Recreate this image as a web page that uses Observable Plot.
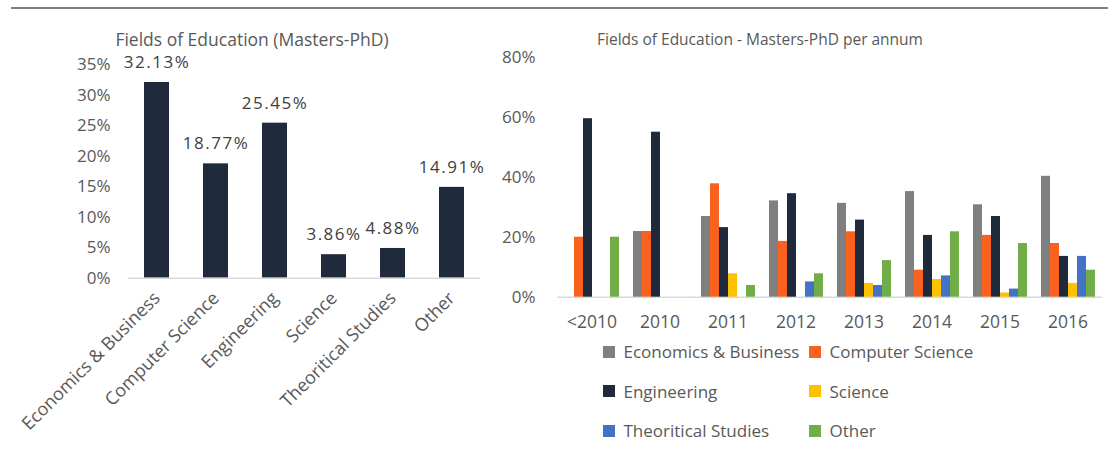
<!DOCTYPE html>
<html>
<head>
<meta charset="utf-8">
<script src="https://cdn.jsdelivr.net/npm/d3@7"></script>
<script src="https://cdn.jsdelivr.net/npm/@observablehq/plot@0.6"></script>
<style>
  body { margin: 0; background: #fff; }
  #wrap { position: relative; width: 1108px; height: 463px; overflow: hidden; font-family: "Open Sans", sans-serif; background: #fff; }
  #topline { position: absolute; left: 11px; top: 7px; width: 1097px; height: 2px; background: #7f7f7f; }
  #left { position: absolute; left: 0; top: 0; }
  #right { position: absolute; left: 500px; top: 0; }
  .ttl { position: absolute; color: #595959; line-height: 22px; white-space: nowrap; transform: translateX(-50%); }
  #legend { position: absolute; left: 603px; top: 332px; width: 430px; }
  #legend .lg-swatch { width: 206px; margin-right: 0; height: 39.5px; }
  #left g[aria-label="text"] text { letter-spacing: 1.5px; }
  #left g[aria-label="x-axis tick label"] text { font-size: 18px; }
  #right g[aria-label="fx-axis tick label"] text { font-size: 17.5px; }
</style>
</head>
<body>
<div id="wrap">
  <div id="topline"></div>
  <div id="left"></div>
  <div id="right"></div>
  <div class="ttl" id="t1" style="left:252px; top:28px; font-size:17.5px;">Fields of Education (Masters-PhD)</div>
  <div class="ttl" id="t2" style="left:760px; top:28px; font-size:15.5px;">Fields of Education - Masters-PhD per annum</div>
  <div id="legend"></div>
</div>
<script>
// ---- Data ----
const categories = ["Economics & Business", "Computer Science", "Engineering", "Science", "Theoritical Studies", "Other"];
const totals = [32.13, 18.77, 25.45, 3.86, 4.88, 14.91];
const leftTicks = [0, 5, 10, 15, 20, 25, 30, 35];

const years = ["<2010", "2010", "2011", "2012", "2013", "2014", "2015", "2016"];
const econ  = [null, 21.9, 26.9, 32.1, 31.3, 35.2, 30.8, 40.3];
const cs    = [20.0, 21.9, 37.8, 18.6, 21.8, 9.0, 20.6, 17.9];
const eng   = [59.5, 55.0, 23.2, 34.5, 25.7, 20.6, 26.9, 13.6];
const sci   = [null, null, 7.8, null, 4.6, 5.9, 1.4, 4.6];
const theo  = [null, null, null, 5.1, 3.9, 7.1, 2.7, 13.6];
const other = [20.0, null, 3.9, 7.8, 12.2, 21.8, 17.9, 9.0];
const rightTicks = [0, 20, 40, 60, 80];
const colors = ["#7f7f7f", "#fa611e", "#1f2a3c", "#ffc000", "#4472c4", "#70ad47"];

// ---- Tables ----
const leftTable = categories.map((c, i) => ({category: c, share: totals[i]}));
const seriesValues = [econ, cs, eng, sci, theo, other];
const rightTable = [];
years.forEach((y, yi) => {
  categories.forEach((c, ci) => {
    const v = seriesValues[ci][yi];
    if (v != null) rightTable.push({year: y, series: c, value: v});
  });
});

const baseStyle = {fontFamily: "Open Sans", fontSize: "17px", color: "#595959", background: "transparent", overflow: "visible"};

const left = Plot.plot({
  width: 520,
  height: 463,
  marginLeft: 128,
  marginRight: 40,
  marginTop: 64.5,
  marginBottom: 185.3,
  style: baseStyle,
  x: {domain: categories, paddingInner: 0.576, paddingOuter: 0.271, tickRotate: -45, tickSize: 0, tickPadding: 17, label: null},
  y: {domain: [0, 35], ticks: leftTicks, tickFormat: d => d + "%", tickSize: 0, tickPadding: 18, label: null},
  marks: [
    Plot.barY(leftTable, {x: "category", y: "share", fill: "#1f2a3c"}),
    Plot.ruleY([0], {stroke: "#d9d9d9", strokeWidth: 1.5}),
    Plot.text(leftTable, {x: "category", y: "share", text: d => d.share.toFixed(2) + "%", dy: -20, fill: "#404040", fontSize: 17})
  ]
});
document.getElementById("left").appendChild(left);

const right = Plot.plot({
  width: 608,
  height: 463,
  marginLeft: 58,
  marginRight: 6,
  marginTop: 56.7,
  marginBottom: 166.3,
  style: baseStyle,
  fx: {domain: years, paddingInner: 0.155, paddingOuter: 0.07, tickSize: 0, tickPadding: 18, label: null, axis: "bottom"},
  x: {domain: categories, padding: 0.04, axis: null},
  y: {domain: [0, 80], ticks: rightTicks, tickFormat: d => d + "%", tickSize: 0, tickPadding: 28, label: null},
  color: {domain: categories, range: colors},
  marks: [
    Plot.ruleY([0], {stroke: "#d9d9d9", strokeWidth: 1.5, insetLeft: -6, insetRight: -6}),
    Plot.barY(rightTable, {fx: "year", x: "series", y: "value", fill: "series"})
  ]
});
document.getElementById("right").appendChild(right);

const legend = Plot.legend({
  color: {domain: categories, range: colors},
  legend: "swatches",
  swatchSize: 12,
  className: "lg",
  style: {fontFamily: "Open Sans", fontSize: "17px", color: "#595959"}
});
document.getElementById("legend").appendChild(legend);
</script>
</body>
</html>
